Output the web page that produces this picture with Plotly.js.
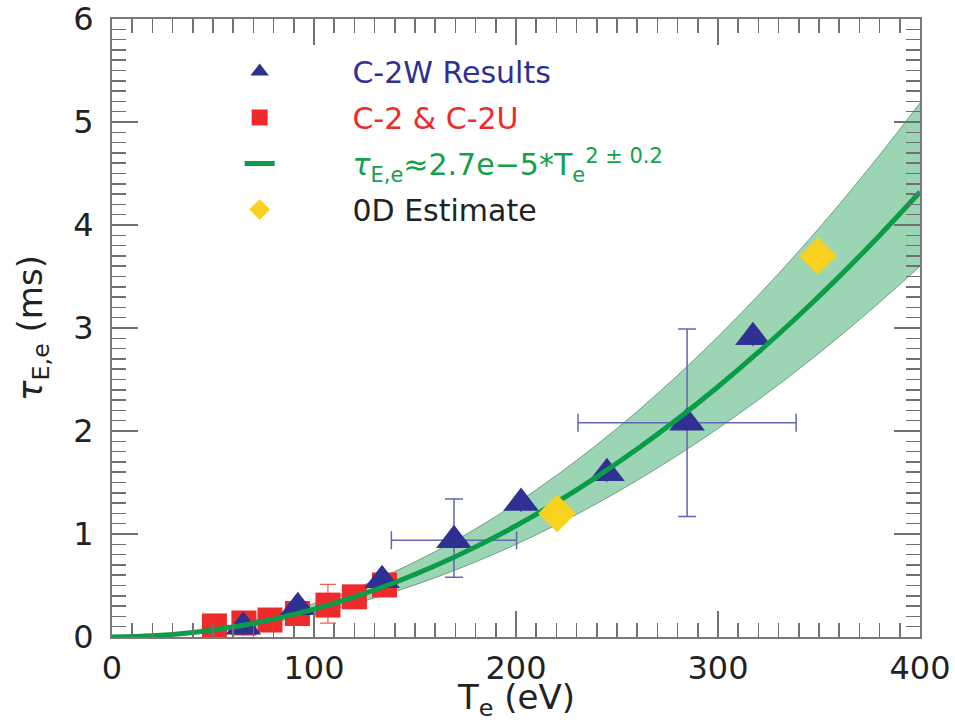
<!DOCTYPE html>
<html>
<head>
<meta charset="utf-8">
<script src="https://cdn.plot.ly/plotly-3.0.1.min.js"></script>
<style>html,body{margin:0;padding:0;background:#fff;}#chart{width:955px;height:723px;}</style>
</head>
<body>
<div id="chart"></div>
<script>
// Fit curve and uncertainty band
const fitT     = [0, 20, 40, 60, 80, 100, 120, 140, 160, 180, 200, 220, 240, 260, 280, 300, 320, 340, 360, 380, 400];
const fitTau   = [0, 0.011, 0.043, 0.097, 0.173, 0.27, 0.389, 0.529, 0.691, 0.875, 1.08, 1.307, 1.555, 1.825, 2.117, 2.43, 2.765, 3.121, 3.499, 3.899, 4.32];
const bandHigh = [0, 0.013, 0.052, 0.117, 0.207, 0.324, 0.467, 0.635, 0.829, 1.05, 1.296, 1.568, 1.866, 2.19, 2.54, 2.916, 3.318, 3.745, 4.199, 4.679, 5.184];
const bandLow  = [0, 0.009, 0.036, 0.081, 0.144, 0.225, 0.324, 0.441, 0.576, 0.729, 0.9, 1.089, 1.296, 1.521, 1.764, 2.025, 2.304, 2.601, 2.916, 3.249, 3.6];

// C-2W Results
const c2wT   = [65, 92, 133.7, 169.3, 202.5, 245, 284.7, 317.3];
const c2wTau = [0.10, 0.29, 0.55, 0.94, 1.30, 1.59, 2.08, 2.91];
const c2wXErr = [null, null, null, 31, null, null, 54, null];
const c2wYErrPlus  = [null, null, null, 0.40, null, null, 0.91, null];
const c2wYErrMinus = [null, null, null, 0.36, null, null, 0.91, null];

// C-2 & C-2U
const c2T   = [50.7, 65.3, 78.2, 91.8, 106.9, 120, 134.9];
const c2Tau = [0.107, 0.136, 0.165, 0.228, 0.31, 0.39, 0.505];
const c2YErrPlus  = [null, null, null, null, 0.2, null, null];
const c2YErrMinus = [null, null, null, null, 0.175, null, null];

// 0D Estimate
const estT   = [220.3, 349.5];
const estTau = [1.20, 3.70];

const pad = '\u00a0'.repeat(7) + '\u2009';
const names = {
  c2w: pad + '<span style="color:#2e3192">C-2W Results</span>',
  c2:  pad + '<span style="color:#ee2a2a">C-2 &amp; C-2U</span>',
  fit: pad + '<span style="color:#12a04c"><i>τ</i><sub>E,e</sub>≈2.7e−5*T<sub>e</sub><sup>2 ± 0.2</sup></span>',
  est: pad + '<span style="color:#222">0D Estimate</span>'
};

const data = [
  {x: fitT, y: bandLow, type: 'scatter', mode: 'lines', line: {color: '#6f9f80', width: 1, shape: 'spline'}, showlegend: false, hoverinfo: 'skip'},
  {x: fitT, y: bandHigh, type: 'scatter', mode: 'lines', fill: 'tonexty', fillcolor: 'rgba(20,155,75,0.42)', line: {color: '#6f9f80', width: 1, shape: 'spline'}, showlegend: false, hoverinfo: 'skip'},
  {x: c2T, y: c2Tau, type: 'scatter', mode: 'markers', name: names.c2, legendrank: 2, legendgroup: 'g2',
   marker: {symbol: 'square', size: 25, color: '#ee2a2a'},
   error_y: {type: 'data', symmetric: false, array: c2YErrPlus, arrayminus: c2YErrMinus, color: '#f0604a', thickness: 1.2, width: 8}},
  {x: c2wT, y: c2wTau, type: 'scatter', mode: 'markers', name: names.c2w, legendrank: 1, legendgroup: 'g1',
   marker: {symbol: 'triangle-up', size: 31, color: '#2e3192'},
   error_x: {type: 'data', array: c2wXErr, color: '#6464b4', thickness: 1.5, width: 9},
   error_y: {type: 'data', symmetric: false, array: c2wYErrPlus, arrayminus: c2wYErrMinus, color: '#6464b4', thickness: 1.5, width: 9}},
  {x: fitT, y: fitTau, type: 'scatter', mode: 'lines', name: names.fit, legendrank: 3, legendgroup: 'g3',
   line: {color: '#0a9c48', width: 5, shape: 'spline'}},
  {x: estT, y: estTau, type: 'scatter', mode: 'markers', name: names.est, legendrank: 4, legendgroup: 'g4',
   marker: {symbol: 'diamond', size: 29, color: '#f9d11f'}}
];

const axisCommon = {
  showline: true, linecolor: '#7a7a7a', linewidth: 2, mirror: 'ticks',
  ticks: 'inside', ticklen: 26, tickwidth: 1.5, tickcolor: '#707070',
  showgrid: false, zeroline: false,
  tickfont: {family: 'DejaVu Sans', size: 32, color: '#222'}
};

const layout = {
  width: 955, height: 723,
  margin: {l: 112, r: 35, t: 19, b: 86},
  paper_bgcolor: '#fff', plot_bgcolor: '#fff',
  font: {family: 'DejaVu Sans', color: '#222'},
  showlegend: true,
  legend: {x: 0.158, y: 0.957, xanchor: 'left', yanchor: 'top', bgcolor: 'rgba(0,0,0,0)',
           font: {family: 'DejaVu Sans', size: 30}, traceorder: 'grouped', tracegroupgap: 4},
  xaxis: Object.assign({}, axisCommon, {
    range: [0, 400], dtick: 100, tick0: 0,
    minor: {dtick: 10, ticklen: 14, tickcolor: '#707070', tickwidth: 1.5, ticks: 'inside', showgrid: false},
    ticklabelstandoff: 2,
    title: {text: ''}
  }),
  yaxis: Object.assign({}, axisCommon, {
    range: [0, 6], dtick: 1, tick0: 0,
    minor: {dtick: 0.1, ticklen: 14, tickcolor: '#707070', tickwidth: 1.5, ticks: 'inside', showgrid: false},
    ticklabelstandoff: 10,
    title: {text: '<i>τ</i><sub>E,e</sub> (ms)', font: {family: 'DejaVu Sans', size: 34, color: '#222'}, standoff: 20}
  }),
  annotations: [
    {text: 'T<sub>e</sub> (eV)', xref: 'paper', yref: 'paper', x: 0.5, y: 0, xanchor: 'center', yanchor: 'top',
     yshift: -38, showarrow: false, font: {family: 'DejaVu Sans', size: 34, color: '#222'}}
  ]
};

Plotly.newPlot('chart', data, layout, {displayModeBar: false, staticPlot: true});
</script>
</body>
</html>
